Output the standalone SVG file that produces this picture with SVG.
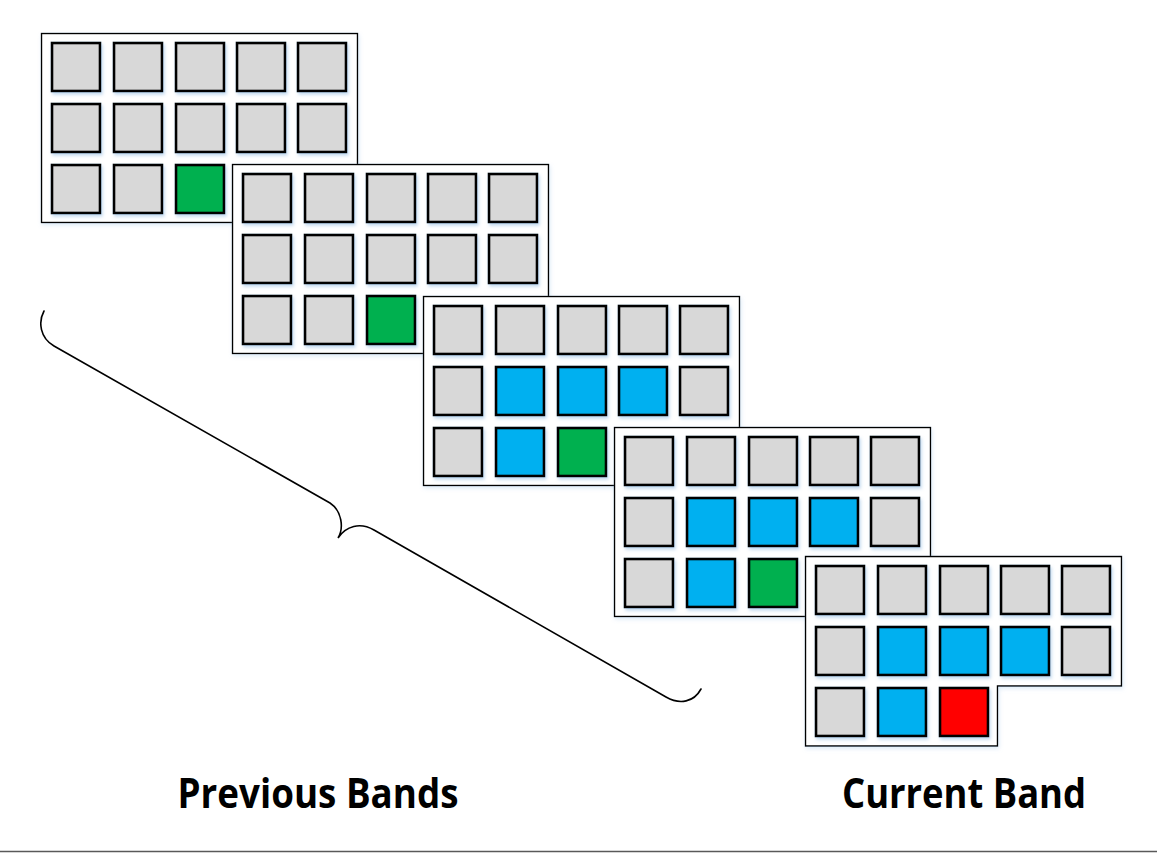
<svg xmlns="http://www.w3.org/2000/svg" width="1157" height="853" viewBox="0 0 1157 853">
  <defs>
    <filter id="sh" x="-20%" y="-20%" width="150%" height="150%">
      <feDropShadow dx="1.5" dy="2.5" stdDeviation="1.6" flood-color="#5b9bd5" flood-opacity="0.35"/>
    </filter>
    <filter id="psh" x="-5%" y="-5%" width="110%" height="115%">
      <feDropShadow dx="1" dy="2" stdDeviation="2" flood-color="#9dc3e6" flood-opacity="0.35"/>
    </filter>
    <style>
      .frame { fill: #ffffff; stroke: #000000; stroke-width: 1.4; filter: url(#psh); }
      .c { stroke: #000000; stroke-width: 2.6; filter: url(#sh); }
      .g { fill: #d8d8d8; }
      .b { fill: #00b0f0; }
      .gr { fill: #00b050; }
      .r { fill: #ff0000; }
      .lbl { font-family: "Open Sans", "Liberation Sans", sans-serif; font-weight: bold; font-size: 42px; fill: #000000; }
      .brace { fill: none; stroke: #000000; stroke-width: 1.6; stroke-linecap: round; }
    </style>
  </defs>
  <rect x="0" y="0" width="1157" height="853" fill="#ffffff"/>

  <!-- Band 1 -->
  <g id="band1" transform="translate(41,33)">
    <rect class="frame" x="0.5" y="0.5" width="316" height="189"/>
    <rect class="c g" x="11" y="10" width="48" height="48"/>
    <rect class="c g" x="73" y="10" width="48" height="48"/>
    <rect class="c g" x="135" y="10" width="48" height="48"/>
    <rect class="c g" x="196" y="10" width="48" height="48"/>
    <rect class="c g" x="257" y="10" width="48" height="48"/>
    <rect class="c g" x="11" y="71" width="48" height="48"/>
    <rect class="c g" x="73" y="71" width="48" height="48"/>
    <rect class="c g" x="135" y="71" width="48" height="48"/>
    <rect class="c g" x="196" y="71" width="48" height="48"/>
    <rect class="c g" x="257" y="71" width="48" height="48"/>
    <rect class="c g" x="11" y="132" width="48" height="48"/>
    <rect class="c g" x="73" y="132" width="48" height="48"/>
    <rect class="c gr" x="135" y="132" width="48" height="48"/>
  </g>

  <!-- Band 2 -->
  <g id="band2" transform="translate(232,164)">
    <rect class="frame" x="0.5" y="0.5" width="316" height="189"/>
    <rect class="c g" x="11" y="10" width="48" height="48"/>
    <rect class="c g" x="73" y="10" width="48" height="48"/>
    <rect class="c g" x="135" y="10" width="48" height="48"/>
    <rect class="c g" x="196" y="10" width="48" height="48"/>
    <rect class="c g" x="257" y="10" width="48" height="48"/>
    <rect class="c g" x="11" y="71" width="48" height="48"/>
    <rect class="c g" x="73" y="71" width="48" height="48"/>
    <rect class="c g" x="135" y="71" width="48" height="48"/>
    <rect class="c g" x="196" y="71" width="48" height="48"/>
    <rect class="c g" x="257" y="71" width="48" height="48"/>
    <rect class="c g" x="11" y="132" width="48" height="48"/>
    <rect class="c g" x="73" y="132" width="48" height="48"/>
    <rect class="c gr" x="135" y="132" width="48" height="48"/>
  </g>

  <!-- Band 3 -->
  <g id="band3" transform="translate(423,296)">
    <rect class="frame" x="0.5" y="0.5" width="316" height="189"/>
    <rect class="c g" x="11" y="10" width="48" height="48"/>
    <rect class="c g" x="73" y="10" width="48" height="48"/>
    <rect class="c g" x="135" y="10" width="48" height="48"/>
    <rect class="c g" x="196" y="10" width="48" height="48"/>
    <rect class="c g" x="257" y="10" width="48" height="48"/>
    <rect class="c g" x="11" y="71" width="48" height="48"/>
    <rect class="c b" x="73" y="71" width="48" height="48"/>
    <rect class="c b" x="135" y="71" width="48" height="48"/>
    <rect class="c b" x="196" y="71" width="48" height="48"/>
    <rect class="c g" x="257" y="71" width="48" height="48"/>
    <rect class="c g" x="11" y="132" width="48" height="48"/>
    <rect class="c b" x="73" y="132" width="48" height="48"/>
    <rect class="c gr" x="135" y="132" width="48" height="48"/>
  </g>

  <!-- Band 4 -->
  <g id="band4" transform="translate(614,427)">
    <rect class="frame" x="0.5" y="0.5" width="316" height="189"/>
    <rect class="c g" x="11" y="10" width="48" height="48"/>
    <rect class="c g" x="73" y="10" width="48" height="48"/>
    <rect class="c g" x="135" y="10" width="48" height="48"/>
    <rect class="c g" x="196" y="10" width="48" height="48"/>
    <rect class="c g" x="257" y="10" width="48" height="48"/>
    <rect class="c g" x="11" y="71" width="48" height="48"/>
    <rect class="c b" x="73" y="71" width="48" height="48"/>
    <rect class="c b" x="135" y="71" width="48" height="48"/>
    <rect class="c b" x="196" y="71" width="48" height="48"/>
    <rect class="c g" x="257" y="71" width="48" height="48"/>
    <rect class="c g" x="11" y="132" width="48" height="48"/>
    <rect class="c b" x="73" y="132" width="48" height="48"/>
    <rect class="c gr" x="135" y="132" width="48" height="48"/>
  </g>

  <!-- Band 5 (current) -->
  <g id="band5" transform="translate(805,556)">
    <path class="frame" d="M0.5,0.5 H316.5 V130 H192.5 V190 H0.5 Z"/>
    <rect class="c g" x="11" y="10" width="48" height="48"/>
    <rect class="c g" x="73" y="10" width="48" height="48"/>
    <rect class="c g" x="135" y="10" width="48" height="48"/>
    <rect class="c g" x="196" y="10" width="48" height="48"/>
    <rect class="c g" x="257" y="10" width="48" height="48"/>
    <rect class="c g" x="11" y="71" width="48" height="48"/>
    <rect class="c b" x="73" y="71" width="48" height="48"/>
    <rect class="c b" x="135" y="71" width="48" height="48"/>
    <rect class="c b" x="196" y="71" width="48" height="48"/>
    <rect class="c g" x="257" y="71" width="48" height="48"/>
    <rect class="c g" x="11" y="132" width="48" height="48"/>
    <rect class="c b" x="73" y="132" width="48" height="48"/>
    <rect class="c r" x="135" y="132" width="48" height="48"/>
  </g>

  <!-- Brace -->
  <g id="connectors">
    <path class="brace" d="M44,311 C38,322 40,338 54,346 L330,503 C342,511 344,528 338,538 C346,526 360,522 374,530 L666,697 C680,705 694,702 701,689"/>
  </g>

  <!-- Labels -->
  <g id="labels">
    <text class="lbl" x="318" y="808" text-anchor="middle" textLength="281" lengthAdjust="spacingAndGlyphs">Previous Bands</text>
    <text class="lbl" x="964" y="808" text-anchor="middle" textLength="244" lengthAdjust="spacingAndGlyphs">Current Band</text>
  </g>

  <line x1="0" y1="851.5" x2="1157" y2="851.5" stroke="#595959" stroke-width="1.5"/>
</svg>
